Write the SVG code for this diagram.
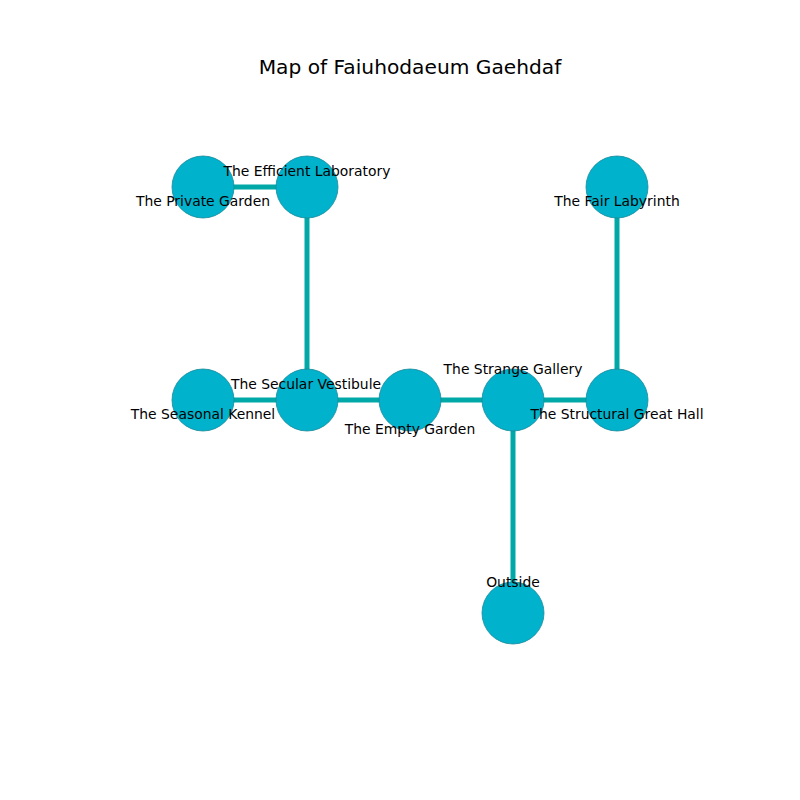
<svg xmlns="http://www.w3.org/2000/svg" width="800" height="800" viewBox="0 0 800 800">
<style>
.e{stroke:#00a8a8;stroke-width:5;fill:none}
.n{fill:#00b2cb;stroke:#1a8a9a;stroke-width:0.8}
.t{font-family:"DejaVu Sans",sans-serif;font-size:13.9px;fill:#000;text-anchor:middle;dominant-baseline:central}
.title{font-family:"DejaVu Sans",sans-serif;font-size:20.2px;fill:#000;text-anchor:middle;dominant-baseline:central}
</style>
<rect width="800" height="800" fill="#fff"/>
<text class="title" x="410" y="67">Map of Faiuhodaeum Gaehdaf</text>
<g id="edges">
<line class="e" x1="203" y1="187" x2="307" y2="187"/>
<line class="e" x1="307" y1="187" x2="307" y2="400"/>
<line class="e" x1="617" y1="187" x2="617" y2="400"/>
<line class="e" x1="203" y1="400" x2="617" y2="400"/>
<line class="e" x1="513" y1="400" x2="513" y2="613"/>
</g>
<g id="private-garden"><circle class="n" cx="203" cy="187" r="31"/></g>
<g id="efficient-laboratory"><circle class="n" cx="307" cy="187" r="31"/></g>
<g id="fair-labyrinth"><circle class="n" cx="617" cy="187" r="31"/></g>
<g id="seasonal-kennel"><circle class="n" cx="203" cy="400" r="31"/></g>
<g id="secular-vestibule"><circle class="n" cx="307" cy="400" r="31"/></g>
<g id="empty-garden"><circle class="n" cx="410" cy="400" r="31"/></g>
<g id="strange-gallery"><circle class="n" cx="513" cy="400" r="31"/></g>
<g id="structural-great-hall"><circle class="n" cx="617" cy="400" r="31"/></g>
<g id="outside"><circle class="n" cx="513" cy="613" r="31"/></g>
<g id="labels">
<text class="t" x="203" y="201">The Private Garden</text>
<text class="t" x="307" y="171">The Efficient Laboratory</text>
<text class="t" x="617" y="201">The Fair Labyrinth</text>
<text class="t" x="203" y="414">The Seasonal Kennel</text>
<text class="t" x="306" y="384">The Secular Vestibule</text>
<text class="t" x="410" y="429">The Empty Garden</text>
<text class="t" x="513" y="369">The Strange Gallery</text>
<text class="t" x="617" y="414">The Structural Great Hall</text>
<text class="t" x="513" y="582">Outside</text>
</g>
</svg>
